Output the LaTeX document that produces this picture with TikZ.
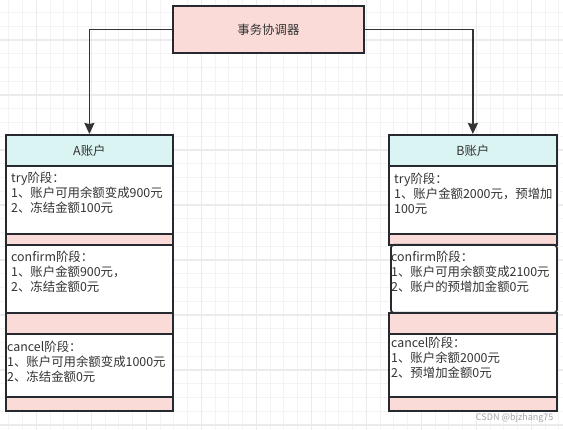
\documentclass[tikz,border=0pt]{standalone}
\usepackage{fontspec}
\newfontfamily\cjk{Noto Sans CJK SC}
\usepackage{xcolor}
\usepackage{tikz}
\usetikzlibrary{positioning, calc, arrows.meta}
\definecolor{pastelcyan}{HTML}{DAF3F3}
\definecolor{pastelpink}{HTML}{FADBD8}
\definecolor{boxline}{HTML}{262A30}
\definecolor{txtgray}{HTML}{333333}
\definecolor{gridminor}{HTML}{F3F3F3}
\definecolor{gridmajor}{HTML}{EBEBEB}
\tikzset{
	sec/.style={draw=boxline, line width=1.8pt, inner sep=0pt, anchor=north west},
	whitesec/.style={sec, fill=white},
	pinksec/.style={sec, fill=pastelpink},
	headsec/.style={sec, fill=pastelcyan},
	phase/.style={anchor=north west, align=left, inner sep=0pt},
	flow/.style={draw=txtgray, line width=1.6pt, -{Stealth[length=11pt,width=10pt,inset=1pt]}}
}

\begin{document}
\begin{tikzpicture}[x=1pt, y=-1pt, every node/.style={font=\cjk\fontsize{12.4}{15}\selectfont, text=txtgray}]
\useasboundingbox (0,0) rectangle (563,430);
\fill[white] (0,0) rectangle (563,430);

% background grid
\foreach \x in {0,...,41}
	\draw[gridminor, line width=1pt] ({-5+13.75*\x},0) -- ++(0,430);
\foreach \y in {0,...,31}
	\draw[gridminor, line width=1pt] (0,{-1.25+13.75*\y}) -- ++(563,0);
\foreach \x in {0,...,10}
	\draw[gridmajor, line width=1.2pt] ({36.25+55*\x},0) -- ++(0,430);
\foreach \y in {0,...,7}
	\draw[gridmajor, line width=1.2pt] (0,{40+55*\y}) -- ++(563,0);

% coordinator
\node[pinksec, minimum width=191, minimum height=47] (coord) at (172,5) {事务协调器};

% account A
\node[headsec, minimum width=167, minimum height=31] (Ahead) at (5,134) {A账户};
\node[whitesec, minimum width=167, minimum height=68] (Atry) at (5,165) {};
\node[pinksec, minimum width=167, minimum height=11] (Agap1) at (5,233) {};
\node[whitesec, minimum width=167, minimum height=68] (Aconfirm) at (5,244) {};
\node[pinksec, minimum width=167, minimum height=21] (Agap2) at (5,312) {};
\node[whitesec, minimum width=167, minimum height=63] (Acancel) at (5,333) {};
\node[pinksec, minimum width=167, minimum height=14] (Agap3) at (5,396) {};

\node[phase] (Atrytxt) at (11,172) {try阶段：\\1、账户可用余额变成900元\\2、冻结金额100元};
\node[phase] (Aconfirmtxt) at (11,251) {confirm阶段：\\1、账户金额900元，\\2、冻结金额0元};
\node[phase] (Acanceltxt) at (7,341) {cancel阶段：\\1、账户可用余额变成1000元\\2、冻结金额0元};

% account B
\node[headsec, minimum width=168, minimum height=31] (Bhead) at (388,134) {B账户};
\node[whitesec, minimum width=168, minimum height=68] (Btry) at (388,165) {};
\node[pinksec, minimum width=168, minimum height=11] (Bgap1) at (388,233) {};
\node[pinksec, minimum width=168, minimum height=21] (Bgap2) at (388,312) {};
\node[whitesec, minimum width=168, minimum height=63] (Bcancel) at (388,333) {};
\node[pinksec, minimum width=168, minimum height=14] (Bgap3) at (388,396) {};
\node[whitesec, rounded corners=3pt, minimum width=166, minimum height=68] (Bconfirm) at (390,244) {};

\node[phase] (Btrytxt) at (394,173) {try阶段：\\1、账户金额2000元，预增加\\100元};
\node[phase] (Bconfirmtxt) at (391,251) {confirm阶段：\\1、账户可用余额变成2100元\\2、账户的预增加金额0元};
\node[phase] (Bcanceltxt) at (391,337) {cancel阶段：\\1、账户余额2000元\\2、预增加金额0元};

% connectors
\draw[flow] (coord.west) -| (Ahead.north);
\draw[flow] (coord.east) -| (Bhead.north);

\node[anchor=east, font=\cjk\fontsize{9}{10}\selectfont, text=black!35] (mark) at (557,418) {CSDN @bjzhang75};
\end{tikzpicture}
\end{document}
